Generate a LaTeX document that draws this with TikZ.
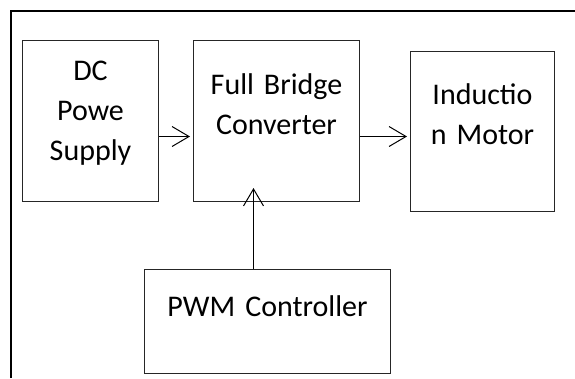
\documentclass[tikz,border=0pt]{standalone}
\usepackage{fontspec}
\setmainfont[WordSpace=0.45]{Carlito}
\usetikzlibrary{arrows.meta, positioning}

\begin{document}
\begin{tikzpicture}[
    block/.style={rectangle, draw=black!85, line width=1pt, inner sep=0pt, text width=#1, align=center, font=\fontsize{30}{40}\selectfont},
    link/.style={line width=1pt, -{Straight Barb[length=17pt, width=20pt]}}
]
    \useasboundingbox (0,0) rectangle (575pt,-378pt);
    % Outer frame
    \draw[line width=2pt] (11pt,-378pt) -- (11pt,-10.5pt) -- (577pt,-10.5pt);

    % Define nodes
    \node (supply) [block=136pt, text height=40pt, text depth=121pt, anchor=north west] at (22pt,-40pt) {DC\\Powe\\Supply};
    \node (bridge) [block=166pt, text height=54pt, text depth=107pt, right=34pt of supply] {Full Bridge\\Converter};
    \node (motor) [block=144pt, text height=53pt, text depth=107pt, anchor=north west] at ([xshift=50pt, yshift=-11pt]bridge.north east) {Inductio\\n Motor};
    \node (pwm) [block=246pt, text height=47pt, text depth=57pt, below=67pt of bridge.south west, anchor=north west, xshift=-49pt] {PWM Controller};

    % Connect nodes
    \draw[link, shorten >=3pt] ([yshift=-15.5pt]supply.east) -- ([yshift=-15.5pt]supply.east -| bridge.west);
    \draw[link, shorten >=3pt] ([yshift=-15.5pt]bridge.east) -- ([yshift=-15.5pt]bridge.east -| motor.west);
    \draw[link, shorten >=-14pt] ([xshift=-14pt]pwm.north) -- ([xshift=-14pt]pwm.north |- bridge.south);
\end{tikzpicture}
\end{document}
